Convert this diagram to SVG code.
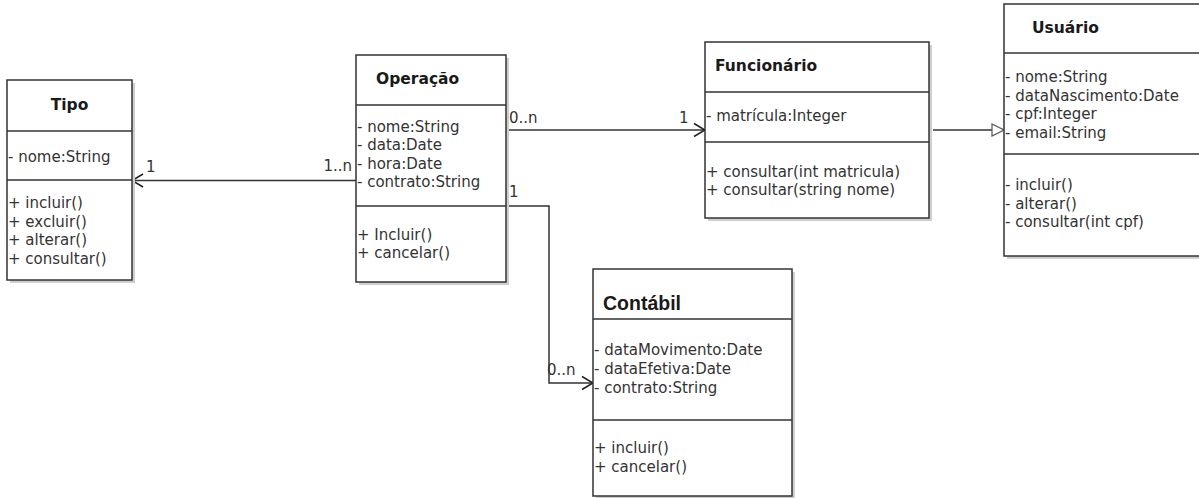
<svg xmlns="http://www.w3.org/2000/svg" width="1199" height="498" viewBox="0 0 1199 498">
<defs>
<style>
.box{fill:#fff;stroke:#333;stroke-width:1.5}
.shadow{fill:#cfcfcf}
.div{stroke:#333;stroke-width:1.5}
.title{font-family:"DejaVu Sans",sans-serif;font-weight:bold;font-size:15.5px;fill:#1a1a1a}
.txt{font-family:"DejaVu Sans",sans-serif;font-size:15px;fill:#333}
.lbl{font-family:"DejaVu Sans",sans-serif;font-size:15px;fill:#333}
.conn{fill:none;stroke:#333;stroke-width:1.5}
</style>
<marker id="open" viewBox="0 0 13 16" refX="12" refY="8" markerWidth="13" markerHeight="16" markerUnits="userSpaceOnUse" orient="auto">
<path d="M1,1.5 L12,8 L1,14.5" fill="none" stroke="#222" stroke-width="1.6"/>
</marker>
<marker id="gen" viewBox="0 0 14 14" refX="13" refY="7" markerWidth="14" markerHeight="14" markerUnits="userSpaceOnUse" orient="auto">
<path d="M1,1 L13,7 L1,13 Z" fill="#fff" stroke="#555" stroke-width="1.2"/>
</marker>
</defs>
<rect width="1199" height="498" fill="#fff"/>

<g id="connectors">
<line class="conn" x1="356" y1="180.5" x2="132" y2="180.5" marker-end="url(#open)"/>
<line class="conn" x1="506" y1="130" x2="705" y2="130" marker-end="url(#open)"/>
<polyline class="conn" points="506,206 549,206 549,383 593,383" marker-end="url(#open)"/>
<line class="conn" x1="933" y1="130" x2="1004" y2="130" stroke="#666" marker-end="url(#gen)"/>
<text class="lbl" x="146" y="172">1</text>
<text class="lbl" x="352" y="171" text-anchor="end">1..n</text>
<text class="lbl" x="509" y="123">0..n</text>
<text class="lbl" x="679" y="123">1</text>
<text class="lbl" x="509" y="197">1</text>
<text class="lbl" x="547" y="375">0..n</text>
</g>

<g id="tipo">
<rect class="shadow" x="10" y="83" width="125" height="200"/>
<rect class="box" x="7" y="80" width="125" height="200"/>
<line class="div" x1="7" y1="131" x2="132" y2="131"/>
<line class="div" x1="7" y1="180" x2="132" y2="180"/>
<text class="title" x="69.5" y="110" text-anchor="middle">Tipo</text>
<text class="txt" x="8" y="162">- nome:String</text>
<text class="txt" x="8" y="208">+ incluir()</text>
<text class="txt" x="8" y="226.5">+ excluir()</text>
<text class="txt" x="8" y="245">+ alterar()</text>
<text class="txt" x="8" y="263.5">+ consultar()</text>
</g>

<g id="operacao">
<rect class="shadow" x="359" y="58" width="150" height="227"/>
<rect class="box" x="356" y="55" width="150" height="227"/>
<line class="div" x1="356" y1="105" x2="506" y2="105"/>
<line class="div" x1="356" y1="206" x2="506" y2="206"/>
<text class="title" x="376" y="84">Operação</text>
<text class="txt" x="357" y="132">- nome:String</text>
<text class="txt" x="357" y="150">- data:Date</text>
<text class="txt" x="357" y="168.5">- hora:Date</text>
<text class="txt" x="357" y="187">- contrato:String</text>
<text class="txt" x="357" y="240">+ Incluir()</text>
<text class="txt" x="357" y="258">+ cancelar()</text>
</g>

<g id="funcionario">
<rect class="shadow" x="708" y="45" width="224" height="176"/>
<rect class="box" x="705" y="42" width="224" height="176"/>
<line class="div" x1="705" y1="92" x2="929" y2="92"/>
<line class="div" x1="705" y1="142" x2="929" y2="142"/>
<text class="title" x="715" y="71">Funcionário</text>
<text class="txt" x="706" y="121">- matrícula:Integer</text>
<text class="txt" x="706" y="177">+ consultar(int matricula)</text>
<text class="txt" x="706" y="195">+ consultar(string nome)</text>
</g>

<g id="usuario">
<rect class="shadow" x="1007" y="7" width="200" height="252"/>
<rect class="box" x="1004" y="4" width="200" height="252"/>
<line class="div" x1="1004" y1="53" x2="1199" y2="53"/>
<line class="div" x1="1004" y1="154" x2="1199" y2="154"/>
<text class="title" x="1032" y="33">Usuário</text>
<text class="txt" x="1005" y="82">- nome:String</text>
<text class="txt" x="1005" y="100.5">- dataNascimento:Date</text>
<text class="txt" x="1005" y="119">- cpf:Integer</text>
<text class="txt" x="1005" y="138">- email:String</text>
<text class="txt" x="1005" y="190">- incluir()</text>
<text class="txt" x="1005" y="208.5">- alterar()</text>
<text class="txt" x="1005" y="227">- consultar(int cpf)</text>
</g>

<g id="contabil">
<rect class="shadow" x="596" y="272" width="199" height="227"/>
<rect class="box" x="593" y="269" width="199" height="227"/>
<line class="div" x1="593" y1="319" x2="792" y2="319"/>
<line class="div" x1="593" y1="420" x2="792" y2="420"/>
<text x="603" y="310" style="font-family:'Liberation Sans',Arial,sans-serif;font-weight:bold;font-size:19.5px;fill:#1a1a1a">Contábil</text>
<text class="txt" x="594" y="355">- dataMovimento:Date</text>
<text class="txt" x="594" y="374">- dataEfetiva:Date</text>
<text class="txt" x="594" y="393">- contrato:String</text>
<text class="txt" x="594" y="453">+ incluir()</text>
<text class="txt" x="594" y="472">+ cancelar()</text>
</g>
</svg>
